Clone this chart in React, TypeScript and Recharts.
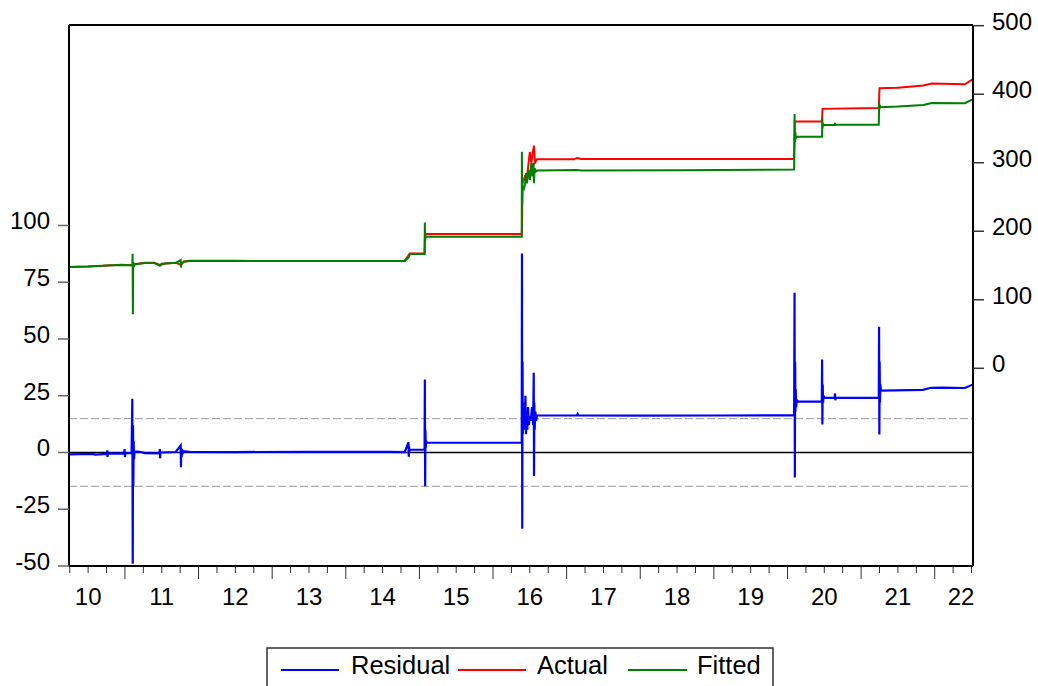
import { LineChart, Line, XAxis, YAxis, ReferenceLine } from "recharts";

// residual (left axis)
const residT = [10.24, 10.4, 10.55, 10.6, 10.757, 10.76, 10.763, 10.767, 10.9, 10.99, 10.995, 11.0, 11.005, 11.09, 11.1, 11.106, 11.11, 11.114, 11.118, 11.124, 11.13, 11.2, 11.272, 11.47, 11.474, 11.478, 11.482, 11.69, 11.757, 11.761, 11.765, 11.77, 11.776, 11.782, 11.79, 11.88, 12.5, 13.5, 14.6, 14.8, 14.852, 14.856, 14.86, 14.864, 14.87, 15.07, 15.074, 15.078, 15.082, 15.086, 15.092, 15.1, 16.39, 16.393, 16.397, 16.401, 16.405, 16.41, 16.418, 16.426, 16.434, 16.44, 16.448, 16.456, 16.466, 16.476, 16.486, 16.5, 16.512, 16.53, 16.545, 16.553, 16.557, 16.561, 16.566, 16.575, 16.585, 16.598, 17.14, 17.15, 17.16, 18.0, 19.0, 20.09, 20.096, 20.1, 20.104, 20.108, 20.112, 20.118, 20.126, 20.14, 20.466, 20.47, 20.474, 20.478, 20.484, 20.49, 20.5, 20.64, 20.645, 20.65, 20.655, 21.24, 21.244, 21.248, 21.252, 21.256, 21.262, 21.27, 21.84, 21.95, 22.1, 22.41, 22.52];
const residV = [-0.8, -0.7, -0.6, -0.9, -0.6, 1.0, -2.0, -0.5, -0.4, -0.5, 1.5, -2.0, -0.3, -0.2, 23.7, -49, 12, -15, 5, -3, 0.5, 0.3, -0.3, -0.4, 1.5, -2.5, 0, 0.2, 3.1, -6.5, 2.0, -2, 1.5, -0.8, 0.6, 0.3, 0.2, 0.3, 0.3, 0.2, 4.5, -1.9, 2.5, 0.5, 1.2, 1.3, 32.2, -14.9, 10, 2, 5, 4.3, 4.3, 87.6, -33.6, 40, 8, 22, 10, 20, 12, 25, 8, 18, 10, 20, 12, 16, 14, 20, 12, 35.1, -10.4, 22, 10, 18, 14, 16.3, 16.4, 17, 16.3, 16.2, 16.3, 16.4, 70.4, -11, 40, 18, 28, 20, 23, 22.4, 22.4, 41, 12.3, 30, 22, 25, 24.1, 24.1, 26, 23, 24.1, 24.1, 55.4, 7.9, 40, 22, 30, 27.3, 27.6, 28.5, 28.6, 28.4, 30];

// actual (right axis)
const actualT = [10.24, 10.5, 10.7, 10.76, 10.95, 11.1, 11.13, 11.27, 11.4, 11.476, 11.55, 11.693, 11.761, 11.8, 11.88, 12.5, 13.5, 14.8, 14.87, 15.07, 15.076, 16.39, 16.393, 16.4, 16.435, 16.46, 16.5, 16.52, 16.545, 16.557, 16.57, 16.598, 17.1, 17.14, 17.2, 18.5, 20.09, 20.1, 20.47, 20.475, 21.0, 21.24, 21.25, 21.5, 21.846, 21.961, 22.41, 22.52];
const actualV = [148, 148.5, 149.5, 150, 151, 150.5, 152, 154, 154, 151, 153, 154, 151, 156, 157, 156.8, 156.7, 157, 167.5, 168, 196, 196, 200, 270, 280, 278, 316, 300, 318, 325, 300, 305, 305, 307, 305.5, 305.5, 305.6, 360, 360, 378.6, 379.5, 380, 408.8, 409.5, 412.6, 415.5, 414.5, 422];

// fitted (right axis)
const fittedT = [10.24, 10.5, 10.76, 10.95, 11.1, 11.104, 11.108, 11.112, 11.118, 11.13, 11.27, 11.4, 11.476, 11.5, 11.693, 11.757, 11.761, 11.766, 11.8, 11.88, 12.5, 13.5, 14.8, 14.855, 14.872, 15.07, 15.074, 15.078, 15.085, 15.1, 16.39, 16.392, 16.396, 16.4, 16.42, 16.435, 16.45, 16.46, 16.48, 16.5, 16.52, 16.535, 16.55, 16.556, 16.565, 16.58, 16.598, 17.14, 17.2, 18.5, 20.09, 20.096, 20.1, 20.106, 20.115, 20.13, 20.47, 20.472, 20.476, 20.482, 20.49, 20.64, 20.645, 20.65, 20.655, 21.24, 21.246, 21.25, 21.256, 21.265, 21.5, 21.846, 21.961, 22.41, 22.52];
const fittedV = [148, 148.5, 150, 150.8, 150.5, 167, 79, 155, 148, 151.5, 153.7, 153.5, 149.5, 152.5, 154, 158, 147, 152, 155.5, 156.7, 156.5, 156.7, 156.7, 162, 166.9, 166.9, 212.6, 186, 193, 192.1, 192.1, 316, 240, 265, 262, 268, 285, 270, 290, 275, 300, 280, 300, 270, 292, 287, 288.5, 289.5, 288.8, 289.2, 290, 371, 330, 345, 336, 338.1, 338, 365, 350, 357, 355.2, 355.5, 358, 354, 355.5, 355.5, 387.8, 378, 383, 381.1, 382, 384.4, 387, 386.9, 392.7];

const dayLabels = ["10", "11", "12", "13", "14", "15", "16", "17", "18", "19", "20", "21", "22"];
const leftTicks = [-50, -25, 0, 25, 50, 75, 100];
const rightTicks = [0, 100, 200, 300, 400, 500];
const stdErr = 14.9;

const X_MIN = 10.24;
const X_MAX = 22.52;
const LEFT_MAX = 188.3;
const PLOT_RIGHT = 973;
const FONT = "'Liberation Sans', Arial, sans-serif";

const residData = residT.map((t, i) => ({ t, v: residV[i] }));
const actualData = actualT.map((t, i) => ({ t, v: actualV[i] }));
const fittedData = fittedT.map((t, i) => ({ t, v: fittedV[i] }));

const xTicks: number[] = [];
dayLabels.forEach((d) => {
  [0, 0.25, 0.5, 0.75].forEach((q) => {
    const v = Number(d) + q;
    if (v >= X_MIN && v <= X_MAX) xTicks.push(v);
  });
});

const DayTick = (props: any) => {
  const { x, y, payload } = props;
  const v = payload.value;
  const frac = v - Math.floor(v);
  const major = frac < 1e-6;
  const mid = Math.abs(frac - 0.5) < 1e-6;
  const lx = Math.min(x, PLOT_RIGHT - 12);
  return (
    <g>
      <line x1={x} x2={x} y1={y + 1} y2={y + (major ? 13 : 7)} stroke="#333" strokeWidth={1} />
      {mid && (
        <text x={lx} y={y + 39} textAnchor="middle" fontSize={24} fontFamily={FONT} fill="#000">
          {String(Math.floor(v))}
        </text>
      )}
    </g>
  );
};

const LeftTick = (props: any) => {
  const { x, y, payload } = props;
  return (
    <g>
      <line x1={x - 11} x2={x} y1={y} y2={y} stroke="#666" strokeWidth={1.5} />
      <text x={x - 19} y={y + 4} textAnchor="end" fontSize={24} fontFamily={FONT} fill="#000">
        {payload.value}
      </text>
    </g>
  );
};

const RightTick = (props: any) => {
  const { x, y, payload } = props;
  return (
    <g>
      <line x1={x} x2={x + 11} y1={y} y2={y} stroke="#333" strokeWidth={1.5} />
      <text x={x + 19} y={y + 4} textAnchor="start" fontSize={24} fontFamily={FONT} fill="#000">
        {payload.value}
      </text>
    </g>
  );
};

const legendItems = [
  { name: "Residual", color: "#0000ff", x1: 281, x2: 339, tx: 351 },
  { name: "Actual", color: "#ff0000", x1: 458, x2: 526, tx: 537 },
  { name: "Fitted", color: "#008000", x1: 628, x2: 687, tx: 697 },
];

export default function App() {
  return (
    <div style={{ position: "absolute", left: 0, top: 0, width: 1038, height: 686, background: "#fff", fontFamily: FONT, overflow: "hidden" }}>
      <LineChart width={1038} height={686} margin={{ top: 25, right: 0, bottom: 80, left: 0 }}>
        <XAxis
          dataKey="t"
          type="number"
          domain={[X_MIN, X_MAX]}
          allowDataOverflow
          ticks={xTicks}
          interval={0}
          height={40}
          tickSize={0}
          tickMargin={0}
          tickLine={false}
          axisLine={{ stroke: "#000", strokeWidth: 2 }}
          tick={<DayTick />}
        />
        <YAxis
          yAxisId="left"
          orientation="left"
          width={69}
          domain={[-50, LEFT_MAX]}
          allowDataOverflow
          ticks={leftTicks}
          interval={0}
          tickSize={0}
          tickMargin={0}
          tickLine={false}
          axisLine={{ stroke: "#000", strokeWidth: 2 }}
          tick={<LeftTick />}
        />
        <YAxis
          yAxisId="right"
          orientation="right"
          width={65}
          domain={[-288.5, 501]}
          allowDataOverflow
          ticks={rightTicks}
          interval={0}
          tickSize={0}
          tickMargin={0}
          tickLine={false}
          axisLine={{ stroke: "#000", strokeWidth: 2 }}
          tick={<RightTick />}
        />
        <ReferenceLine yAxisId="left" y={LEFT_MAX} stroke="#000" strokeWidth={2} />
        <ReferenceLine yAxisId="left" y={stdErr} stroke="#999" strokeWidth={1} strokeDasharray="8 3" />
        <ReferenceLine yAxisId="left" y={-stdErr} stroke="#999" strokeWidth={1} strokeDasharray="8 3" />
        <ReferenceLine yAxisId="left" y={0} stroke="#000" strokeWidth={1.5} />
        <Line yAxisId="left" data={residData} dataKey="v" type="linear" stroke="#0000ff" strokeWidth={2.2} dot={false} isAnimationActive={false} />
        <Line yAxisId="right" data={actualData} dataKey="v" type="linear" stroke="#ff0000" strokeWidth={2} dot={false} isAnimationActive={false} />
        <Line yAxisId="right" data={fittedData} dataKey="v" type="linear" stroke="#008000" strokeWidth={2} dot={false} isAnimationActive={false} />
      </LineChart>
      <svg width={1038} height={686} style={{ position: "absolute", left: 0, top: 0, pointerEvents: "none" }}>
        <rect x={267} y={648} width={506} height={50} fill="#fff" stroke="#333" strokeWidth={1.5} />
        {legendItems.map((it) => (
          <g key={it.name}>
            <line x1={it.x1} x2={it.x2} y1={670} y2={670} stroke={it.color} strokeWidth={2} />
            <text x={it.tx} y={674} fontSize={25.5} fontFamily={FONT} fill="#000">
              {it.name}
            </text>
          </g>
        ))}
      </svg>
    </div>
  );
}
